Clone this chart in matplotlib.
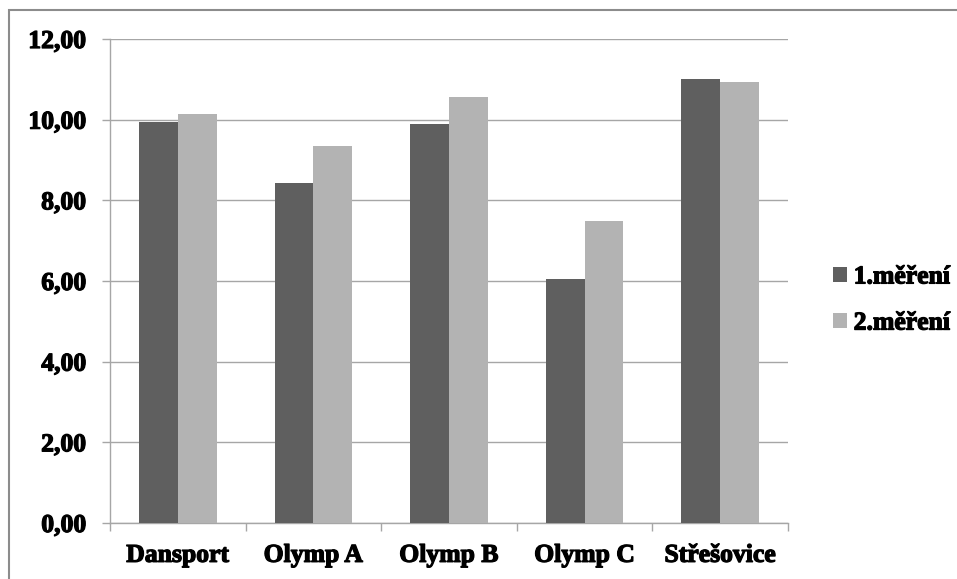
import numpy as np
import matplotlib.pyplot as plt
import matplotlib.patheffects as pe
from matplotlib.patches import Rectangle
from matplotlib.ticker import FixedLocator, FuncFormatter

# Naměřené hodnoty pro jednotlivé kluby
clubs = ['Dansport', 'Olymp A', 'Olymp B', 'Olymp C', 'Střešovice']
mereni_1 = [9.95, 8.42, 9.89, 6.06, 11.00]
mereni_2 = [10.13, 9.35, 10.56, 7.50, 10.93]
series_names = ['1.měření', '2.měření']

W, H = 957, 579
fig = plt.figure(figsize=(W / 100, H / 100), dpi=100, facecolor='white')
plt.rcParams['font.family'] = ['Liberation Serif', 'DejaVu Serif']
heavy = [pe.withStroke(linewidth=0.9, foreground='black')]

# rámeček kolem celého grafu
fig.patches.append(Rectangle((9 / W, -0.05), (W - 9 + 20) / W, 1.05 - 10 / H,
                             transform=fig.transFigure, fill=False,
                             edgecolor='#8c8c8c', linewidth=1.5))

ax = fig.add_axes([110 / W, (H - 523) / H, (788 - 110) / W, (523 - 39) / H])

x = np.arange(len(clubs))
bw = 1 / 3.5
ax.bar(x - bw / 2, mereni_1, bw, color='#5f5f5f', label=series_names[0], zorder=3)
ax.bar(x + bw / 2, mereni_2, bw, color='#b3b3b3', label=series_names[1], zorder=3)

ax.set_xlim(-0.5, len(clubs) - 0.5)
ax.set_ylim(0, 12)
ax.set_yticks(np.arange(0, 13, 2))
ax.yaxis.set_major_formatter(FuncFormatter(lambda v, p: f'{v:.2f}'.replace('.', ',')))
ax.grid(axis='y', color='#a6a6a6', linewidth=1, zorder=0)

# kategorie: čárky na hranicích, popisky uprostřed
ax.xaxis.set_major_locator(FixedLocator(np.arange(-0.5, len(clubs), 1)))
ax.xaxis.set_minor_locator(FixedLocator(x))
ax.set_xticklabels([])
ax.set_xticklabels(clubs, minor=True)
ax.tick_params(axis='x', which='major', length=6, width=1, color='#a6a6a6')
ax.tick_params(axis='x', which='minor', length=0, pad=15)
ax.tick_params(axis='y', length=6, width=1, color='#a6a6a6', pad=11)

for lab in ax.get_xticklabels(minor=True) + ax.get_yticklabels():
    lab.set_fontsize(18.5)
    lab.set_fontweight('bold')
    lab.set_path_effects(heavy)

for side in ['top', 'right']:
    ax.spines[side].set_visible(False)
for side in ['left', 'bottom']:
    ax.spines[side].set_color('#a6a6a6')
    ax.spines[side].set_linewidth(1)

leg = fig.legend(loc='center left', bbox_to_anchor=(810 / W, 1 - 300 / H), frameon=False,
                 prop={'size': 18.5, 'weight': 'bold'}, handlelength=0.55, handleheight=0.55,
                 handletextpad=0.25, labelspacing=0.9)
for t in leg.get_texts():
    t.set_path_effects(heavy)

fig.savefig('out.png', dpi=100, facecolor='white')
